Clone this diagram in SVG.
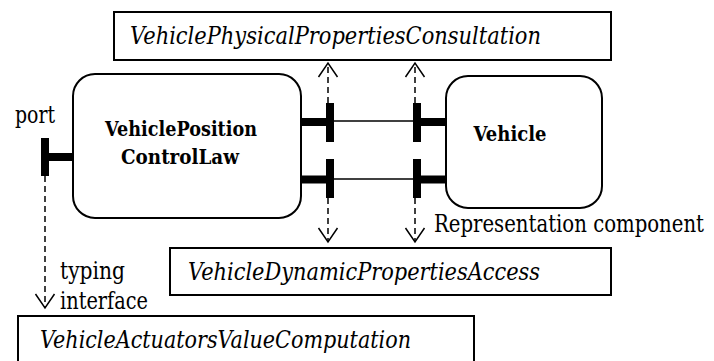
<svg xmlns="http://www.w3.org/2000/svg" width="714" height="361" viewBox="0 0 714 361">
<style>
.box{fill:#fff;stroke:#000;stroke-width:2}
.comp{fill:#fff;stroke:#000;stroke-width:2}
text{font-family:'DejaVu Serif','Liberation Serif',serif;fill:#000}
.it{font-style:italic;font-size:24px}
.rg{font-size:24px}
.bd{font-weight:bold;font-size:21px;text-anchor:middle}
.port{fill:#000}
.thin{stroke:#000;stroke-width:1.5;fill:none}
.dash{stroke:#000;stroke-width:1.5;stroke-dasharray:6,4;fill:none;marker-end:url(#open)}
</style>
<defs>
<marker id="open" markerUnits="userSpaceOnUse" markerWidth="20" markerHeight="22" refX="16" refY="11" orient="auto" overflow="visible">
<path d="M2,1.5 L16,11 L2,20.5" fill="none" stroke="#000" stroke-width="1.5"/>
</marker>
</defs>
<g id="iface-physical">
<rect class="box" x="114" y="12" width="497" height="48"/>
<text class="it" x="130" y="44" textLength="411" lengthAdjust="spacingAndGlyphs">VehiclePhysicalPropertiesConsultation</text>
</g>
<g id="iface-dynamic">
<rect class="box" x="170" y="248" width="441" height="47"/>
<text class="it" x="188" y="280" textLength="352" lengthAdjust="spacingAndGlyphs">VehicleDynamicPropertiesAccess</text>
</g>
<g id="iface-actuators">
<rect class="box" x="18" y="316" width="456" height="60"/>
<text class="it" x="40" y="348" textLength="371" lengthAdjust="spacingAndGlyphs">VehicleActuatorsValueComputation</text>
</g>
<g id="comp-control">
<rect class="comp" x="73" y="74" width="228" height="144" rx="22" ry="22"/>
<text class="bd" x="181" y="136" textLength="152" lengthAdjust="spacingAndGlyphs">VehiclePosition</text>
<text class="bd" x="180" y="164" textLength="118" lengthAdjust="spacingAndGlyphs">ControlLaw</text>
</g>
<g id="comp-vehicle">
<rect class="comp" x="446" y="76" width="156" height="132" rx="22" ry="22"/>
<text class="bd" x="510" y="141" textLength="73" lengthAdjust="spacingAndGlyphs">Vehicle</text>
</g>
<g id="ports">
<rect class="port" x="41" y="138" width="8" height="38"/>
<rect class="port" x="49" y="153" width="24" height="8"/>
<rect class="port" x="301" y="118" width="25" height="8"/>
<rect class="port" x="326" y="103" width="8" height="39"/>
<rect class="port" x="413" y="103" width="8" height="39"/>
<rect class="port" x="421" y="118" width="25" height="8"/>
<rect class="port" x="301" y="175.5" width="25" height="8"/>
<rect class="port" x="326" y="159" width="8" height="39"/>
<rect class="port" x="413" y="159" width="8" height="39"/>
<rect class="port" x="421" y="175.5" width="25" height="8"/>
</g>
<g id="connectors">
<line class="thin" x1="334" y1="121" x2="413" y2="121"/>
<line class="thin" x1="334" y1="179" x2="413" y2="179"/>
<line class="dash" x1="328" y1="103" x2="328" y2="63"/>
<line class="dash" x1="415" y1="103" x2="415" y2="63"/>
<line class="dash" x1="328" y1="198" x2="328" y2="242"/>
<line class="dash" x1="415" y1="198" x2="415" y2="242"/>
<line class="dash" x1="45" y1="176" x2="45" y2="308"/>
</g>
<g id="labels">
<text class="rg" x="15" y="123" textLength="40" lengthAdjust="spacingAndGlyphs">port</text>
<text class="rg" x="60" y="279" textLength="65" lengthAdjust="spacingAndGlyphs">typing</text>
<text class="rg" x="60" y="309" textLength="88" lengthAdjust="spacingAndGlyphs">interface</text>
<text class="rg" x="434" y="232" textLength="270" lengthAdjust="spacingAndGlyphs">Representation component</text>
</g>
</svg>
